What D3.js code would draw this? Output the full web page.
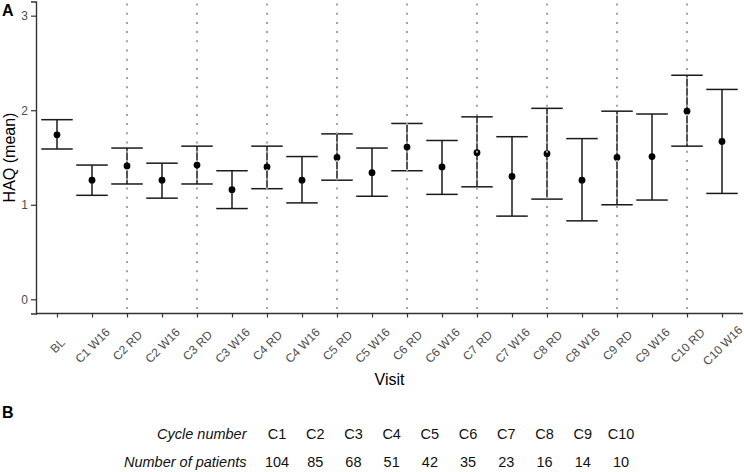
<!DOCTYPE html>
<html lang="en">
<head>
    <meta charset="UTF-8">
    <title>HAQ per visit</title>
    <script src="https://d3js.org/d3.v7.min.js"></script>
    <style>
      body { margin: 0; background: #fff; }
      svg { display: block; font-family: "Liberation Sans", Arial, sans-serif; }
      .tick-label { font-size: 12px; fill: #4d4d4d; }
      .axis-title { font-size: 16px; fill: #000; }
      .panel-tag { font-size: 16px; font-weight: bold; }
      .tbl { font-size: 14.5px; fill: #111; }
    </style>
</head>
<body>
    <svg width="744" height="472"></svg>

    <script>
    // visits on the x axis
    var visits = ["BL", "C1 W16", "C2 RD", "C2 W16", "C3 RD", "C3 W16", "C4 RD", "C4 W16",
                  "C5 RD", "C5 W16", "C6 RD", "C6 W16", "C7 RD", "C7 W16", "C8 RD", "C8 W16",
                  "C9 RD", "C9 W16", "C10 RD", "C10 W16"];
    // HAQ mean and error bar limits
    var haqMean  = [1.74, 1.26, 1.41, 1.26, 1.42, 1.16, 1.40, 1.26, 1.50, 1.34,
                    1.61, 1.40, 1.55, 1.30, 1.54, 1.26, 1.50, 1.51, 1.99, 1.67];
    var haqLower = [1.59, 1.10, 1.22, 1.07, 1.22, 0.96, 1.17, 1.02, 1.26, 1.09,
                    1.36, 1.11, 1.19, 0.88, 1.06, 0.83, 1.00, 1.05, 1.62, 1.12];
    var haqUpper = [1.90, 1.42, 1.60, 1.44, 1.62, 1.36, 1.62, 1.51, 1.75, 1.60,
                    1.86, 1.68, 1.93, 1.72, 2.02, 1.70, 1.99, 1.96, 2.37, 2.22];
    var yTicks = [0, 1, 2, 3];

    // table B
    var cycles = ["C1", "C2", "C3", "C4", "C5", "C6", "C7", "C8", "C9", "C10"];
    var patients = [104, 85, 68, 51, 42, 35, 23, 16, 14, 10];

    var data = visits.map((v, i) => ({visit: v, mean: haqMean[i], lo: haqLower[i], hi: haqUpper[i]}));
    var rdVisits = visits.filter(v => v.endsWith("RD"));

    var panel = {left: 36, right: 743, top: 1.5, bottom: 313.5};

    const svg = d3.select('svg');

    const x = d3.scalePoint()
      .domain(visits)
      .range([panel.left, panel.right])
      .padding(0.6);

    const y = d3.scaleLinear()
      .domain([-0.15, 3.15])
      .range([panel.bottom, panel.top]);

    var capW = x.step() * 0.9;
    var ink = '#1a1a1a';

    // error bars
    var bars = svg.append('g').attr('stroke', ink).attr('stroke-width', 1.5);
    bars.selectAll('.stem')
      .data(data)
      .enter()
      .append('line')
      .attr('x1', d => x(d.visit)).attr('x2', d => x(d.visit))
      .attr('y1', d => y(d.lo)).attr('y2', d => y(d.hi));
    bars.selectAll('.cap-hi')
      .data(data)
      .enter()
      .append('line')
      .attr('x1', d => x(d.visit) - capW / 2).attr('x2', d => x(d.visit) + capW / 2)
      .attr('y1', d => y(d.hi)).attr('y2', d => y(d.hi));
    bars.selectAll('.cap-lo')
      .data(data)
      .enter()
      .append('line')
      .attr('x1', d => x(d.visit) - capW / 2).attr('x2', d => x(d.visit) + capW / 2)
      .attr('y1', d => y(d.lo)).attr('y2', d => y(d.lo));

    // means
    svg.append('g')
      .selectAll('circle')
      .data(data)
      .enter()
      .append('circle')
      .attr('cx', d => x(d.visit))
      .attr('cy', d => y(d.mean))
      .attr('r', 3.4)
      .attr('fill', '#000');

    // dotted lines at RD visits, drawn on top
    svg.append('g')
      .selectAll('line')
      .data(rdVisits)
      .enter()
      .append('line')
      .attr('x1', d => x(d)).attr('x2', d => x(d))
      .attr('y1', panel.top + 2).attr('y2', panel.bottom - 4)
      .attr('stroke', '#a3a3a3')
      .attr('stroke-width', 2)
      .attr('stroke-dasharray', '2,7.2');

    // y axis
    var yAxis = svg.append('g')
      .attr('transform', `translate(${panel.left},0)`)
      .call(d3.axisLeft(y).tickValues(yTicks).tickFormat(d3.format('d')).tickSize(5).tickPadding(3))
      .attr('font-family', null).attr('font-size', null);
    yAxis.select('.domain').attr('stroke', '#333').attr('stroke-width', 1.4);
    yAxis.selectAll('.tick line').attr('stroke', '#333').attr('stroke-width', 1.2);
    yAxis.selectAll('.tick text').attr('class', 'tick-label');

    // x axis
    var xAxis = svg.append('g')
      .attr('transform', `translate(0,${panel.bottom})`)
      .call(d3.axisBottom(x).tickSize(4).tickSizeOuter(0))
      .attr('font-family', null).attr('font-size', null);
    xAxis.select('.domain').attr('stroke', '#333').attr('stroke-width', 1.4)
      .attr('d', `M${panel.left},0H${panel.right}`);
    xAxis.selectAll('.tick line').attr('stroke', '#333').attr('stroke-width', 1.2);
    xAxis.selectAll('.tick text')
      .attr('class', 'tick-label')
      .attr('y', 0).attr('dy', '0.35em')
      .attr('text-anchor', 'middle')
      .attr('transform', 'translate(0,32) rotate(-45)');

    // axis titles
    svg.append('text')
      .attr('class', 'axis-title')
      .attr('x', (panel.left + panel.right) / 2)
      .attr('y', 385)
      .attr('text-anchor', 'middle')
      .text('Visit');

    svg.append('text')
      .attr('class', 'axis-title')
      .attr('transform', 'rotate(-90)')
      .attr('x', -(panel.top + panel.bottom) / 2)
      .attr('y', 15)
      .attr('text-anchor', 'middle')
      .text('HAQ (mean)');

    // panel tags
    svg.append('text').attr('class', 'panel-tag').attr('x', 2).attr('y', 16).text('A');
    svg.append('text').attr('class', 'panel-tag').attr('x', 2).attr('y', 418).text('B');

    // table B
    const col = d3.scalePoint()
      .domain(cycles)
      .range([277, 621]);

    svg.append('text')
      .attr('class', 'tbl')
      .attr('x', 246.5).attr('y', 439)
      .attr('text-anchor', 'end')
      .style('font-style', 'italic')
      .text('Cycle number');
    svg.append('text')
      .attr('class', 'tbl')
      .attr('x', 246.5).attr('y', 466.5)
      .attr('text-anchor', 'end')
      .style('font-style', 'italic')
      .text('Number of patients');

    svg.append('g')
      .selectAll('text')
      .data(cycles)
      .enter()
      .append('text')
      .attr('class', 'tbl')
      .attr('x', d => col(d)).attr('y', 439)
      .attr('text-anchor', 'middle')
      .text(d => d);

    svg.append('g')
      .selectAll('text')
      .data(patients)
      .enter()
      .append('text')
      .attr('class', 'tbl')
      .attr('x', (d, i) => col(cycles[i])).attr('y', 466.5)
      .attr('text-anchor', 'middle')
      .text(d => d);
    </script>
</body>
</html>
